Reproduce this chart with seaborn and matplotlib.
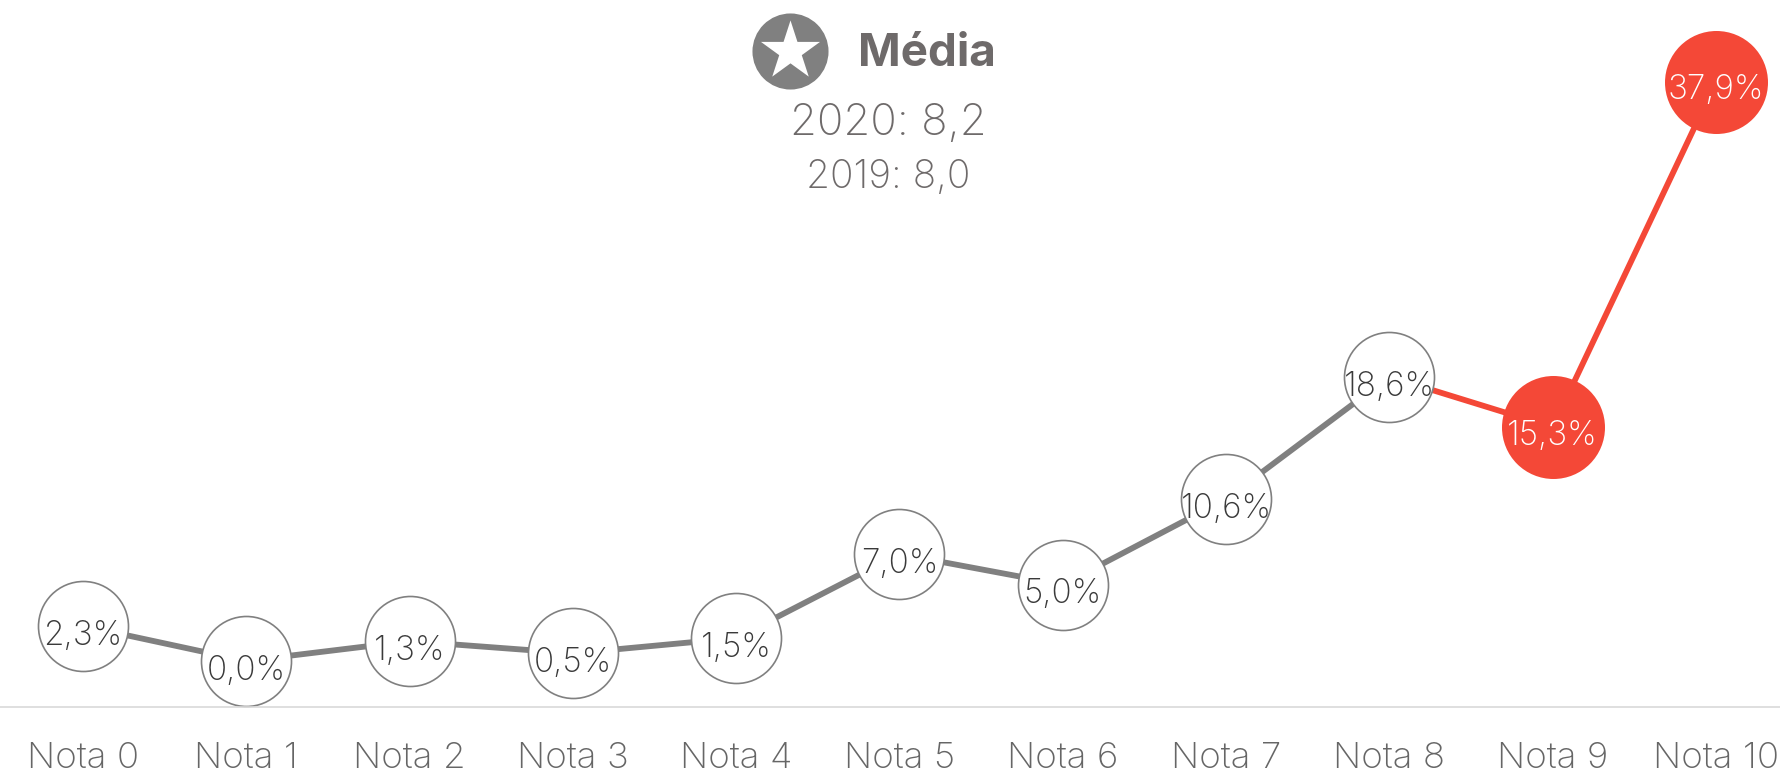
import matplotlib
matplotlib.use("Agg")
import matplotlib.pyplot as plt
import pandas as pd
import seaborn as sns

categories = ["Nota 0", "Nota 1", "Nota 2", "Nota 3", "Nota 4", "Nota 5",
              "Nota 6", "Nota 7", "Nota 8", "Nota 9", "Nota 10"]
values = [2.3, 0.0, 1.3, 0.5, 1.5, 7.0, 5.0, 10.6, 18.6, 15.3, 37.9]
value_labels = ["2,3%", "0,0%", "1,3%", "0,5%", "1,5%", "7,0%",
                "5,0%", "10,6%", "18,6%", "15,3%", "37,9%"]
highlighted = ["Nota 9", "Nota 10"]
title = "Média"
line_2020 = "2020: 8,2"
line_2019 = "2019: 8,0"

GRAY = "#808080"
RED = "#F44837"
TEXT = "#6E6A6A"
DARK = "#3A3A3A"
W, H = 1780, 775

sns.set_theme(style="white")
plt.rcParams["font.family"] = ["Inter", "Lato", "DejaVu Sans"]

df = pd.DataFrame({"cat": categories, "val": values, "pos": range(len(categories))})
df["hl"] = df["cat"].isin(highlighted)

fig = plt.figure(figsize=(W / 100, H / 100), dpi=100, facecolor="white")
ax = fig.add_axes([0, (H - 707) / H, 1, 707 / H])

sns.lineplot(data=df.iloc[:9], x="pos", y="val", color=GRAY, lw=4.2, ax=ax, zorder=1)
sns.lineplot(data=df.iloc[8:], x="pos", y="val", color=RED, lw=4.2, ax=ax, zorder=1)
sns.scatterplot(data=df[~df["hl"]], x="pos", y="val", s=4200, color="white",
                edgecolor=GRAY, linewidth=1.2, ax=ax, zorder=2, clip_on=False)
sns.scatterplot(data=df[df["hl"]], x="pos", y="val", s=5500, color=RED,
                edgecolor=RED, linewidth=0, ax=ax, zorder=2, clip_on=False)

for r, lab in zip(df.itertuples(), value_labels):
    ax.annotate(lab, (r.pos, r.val), xytext=(0, -6 if r.hl else -7), textcoords="offset points",
                ha="center", va="center", fontsize=24, fontweight="light",
                color="white" if r.hl else DARK, zorder=3)

step = 163.3
x0 = 83
ax.set_xlim(-x0 / step, (W - x0) / step)
ax.set_ylim(-(707 - 661) / 15.28, 661 / 15.28)
ax.set_xticks(df["pos"], categories)
ax.tick_params(axis="x", length=0, pad=25, labelsize=26.5, labelcolor="#666666")
for t in ax.get_xticklabels():
    t.set_fontweight("light")
ax.set_yticks([])
ax.set_xlabel("")
ax.set_ylabel("")
for s in ["top", "left", "right"]:
    ax.spines[s].set_visible(False)
ax.spines["bottom"].set_color("#d9d9d9")
ax.spines["bottom"].set_linewidth(1.2)

def fx(px):
    return px / W
def fy(py):
    return 1 - py / H

badge = fig.add_axes([0, 0, 1, 1], facecolor="none")
badge.set_axis_off()
badge.set_xlim(0, 1)
badge.set_ylim(0, 1)
badge.scatter([fx(790)], [fy(50.5)], s=3000, color=GRAY, linewidths=0)
badge.scatter([fx(790)], [fy(51)], s=2000, color="white", marker="*", linewidths=0)

fig.text(fx(927), fy(54), title, ha="center", va="center", fontsize=33,
         fontweight="bold", color=TEXT)
fig.text(fx(888), fy(124), line_2020, ha="center", va="center", fontsize=31.5,
         fontweight="light", color=TEXT)
fig.text(fx(888), fy(178), line_2019, ha="center", va="center", fontsize=28,
         fontweight="light", color=TEXT)

fig.savefig("out.png", dpi=100, facecolor="white")
